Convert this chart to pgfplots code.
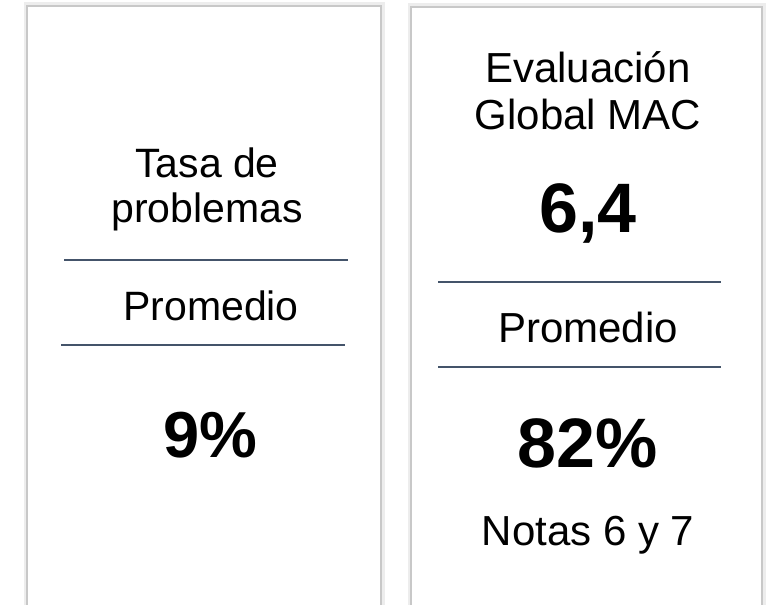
\documentclass[border=0pt]{standalone}
\usepackage{pgfplots}
\pgfplotsset{compat=1.18}
\usepackage{fontspec}
\setmainfont{Liberation Sans}
\definecolor{cardline}{HTML}{C8C8C8}
\definecolor{shadow}{HTML}{EDEDED}
\definecolor{rule}{HTML}{44546A}

\newcommand{\fs}[1]{\fontsize{#1pt}{#1pt}\selectfont}

\begin{document}
\begin{tikzpicture}
\begin{axis}[scale only axis,width=767pt,height=604pt,
  xmin=0,xmax=767,ymin=0,ymax=604,y dir=reverse,hide axis,clip=true]
% background
\addplot[fill=white,draw=none] coordinates {(0,0)(767,0)(767,604)(0,604)} -- cycle;
% card shadows
\addplot[draw=shadow,line width=7pt] coordinates {(27,650)(27,6)(381,6)(381,650)};
\addplot[draw=shadow,line width=7pt] coordinates {(411,650)(411,7)(762,7)(762,650)};
% cards
\addplot[fill=white,draw=cardline,line width=2pt] coordinates {(27,650)(27,6)(381,6)(381,650)};
\addplot[fill=white,draw=cardline,line width=2pt] coordinates {(411,650)(411,7)(762,7)(762,650)};
% dividers
\addplot[rule,line width=2pt] coordinates {(64,260)(348,260)};
\addplot[rule,line width=2pt] coordinates {(61,345)(345,345)};
\addplot[rule,line width=2pt] coordinates {(438,282)(721,282)};
\addplot[rule,line width=2pt] coordinates {(438,367)(721,367)};
% left card
\node[anchor=base,font=\fs{41}] at (axis cs:207,177) {Tasa de};
\node[anchor=base,font=\fs{41}] at (axis cs:207,222) {problemas};
\node[anchor=base,font=\fs{41}] at (axis cs:211,320) {Promedio};
\node[anchor=base,font=\fs{65}\bfseries] at (axis cs:210,457) {9\%};
% right card
\node[anchor=base,font=\fs{42}] at (axis cs:588,83) {Evaluación};
\node[anchor=base,font=\fs{42}] at (axis cs:588,130) {Global MAC};
\node[anchor=base,font=\fs{70}\bfseries] at (axis cs:588,232) {6,4};
\node[anchor=base,font=\fs{42}] at (axis cs:588,342) {Promedio};
\node[anchor=base,font=\fs{70}\bfseries] at (axis cs:588,467) {82\%};
\node[anchor=base,font=\fs{42}] at (axis cs:588,545) {Notas 6 y 7};
\end{axis}
\end{tikzpicture}
\end{document}
